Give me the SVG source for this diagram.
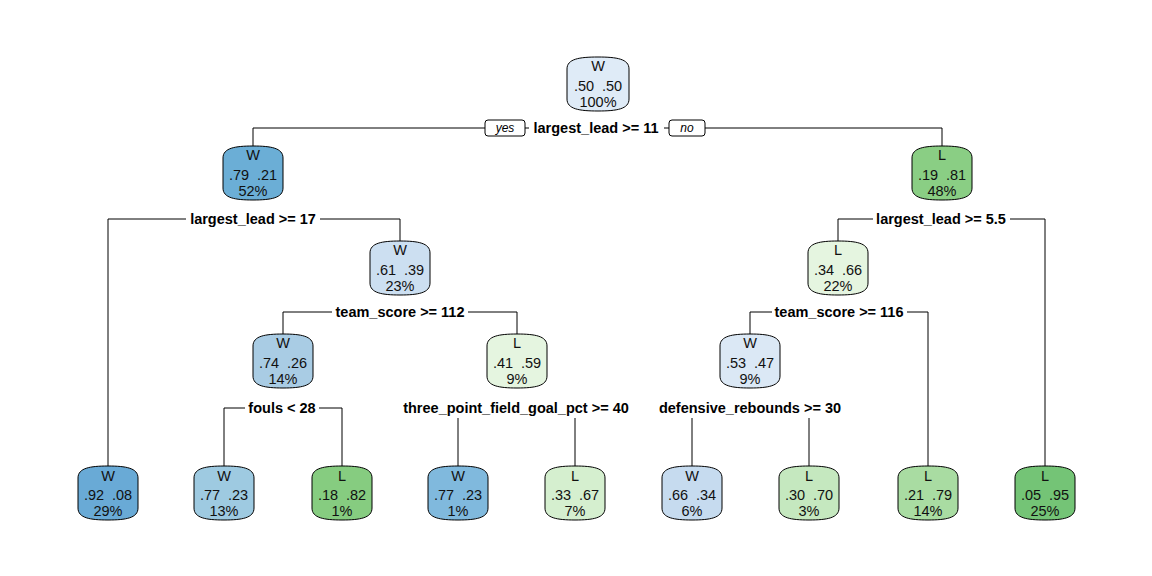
<svg xmlns="http://www.w3.org/2000/svg" width="1152" height="576" viewBox="0 0 1152 576">
<style>
.bg{fill:#ffffff}
.nd{stroke:#000;stroke-width:1}
.t{font-family:"Liberation Sans",Arial,sans-serif;font-size:14.5px;fill:#111;text-anchor:middle}
.s{font-family:"Liberation Sans",Arial,sans-serif;font-size:14.5px;font-weight:bold;fill:#000;text-anchor:middle}
.yn{font-family:"Liberation Sans",Arial,sans-serif;font-size:12px;font-style:italic;fill:#000;text-anchor:middle}
.ln{stroke:#000;stroke-width:1;fill:none}
.lb{fill:#fff}
</style>
<defs>
<path id="box" d="M0,12 C0,2 12,0 30,0 C48,0 60,2 60,12 V42 C60,52 48,54 30,54 C12,54 0,52 0,42 Z"/>
<path id="rootbox" d="M0,12 C0,2 12,0 31,0 C50,0 62,2 62,12 V42 C62,52 50,54 31,54 C12,54 0,52 0,42 Z"/>
</defs>
<rect class="bg" x="0" y="0" width="1152" height="576"/>
<g id="connectors">
<path class="ln" d="M253,146V128H942V146"/>
<path class="ln" d="M108,466V219H400V241"/>
<path class="ln" d="M838,241V219H1045V466"/>
<path class="ln" d="M283,334V312H517V334"/>
<path class="ln" d="M750,334V312H928V466"/>
<path class="ln" d="M224,466V408H342V466"/>
<path class="ln" d="M458,466V418"/>
<path class="ln" d="M575,466V418"/>
<path class="ln" d="M692,466V418"/>
<path class="ln" d="M809,466V418"/>
</g>
<g id="split-labels">
<rect class="lb" x="529" y="120" width="135" height="16"/>
<text class="s" x="596" y="133">largest_lead &gt;= 11</text>
<rect x="485" y="120" width="40" height="16" rx="3" fill="#fff" stroke="#000"/>
<text class="yn" x="505" y="132">yes</text>
<rect x="669" y="120" width="36" height="16" rx="3" fill="#fff" stroke="#000"/>
<text class="yn" x="687" y="132">no</text>
<rect class="lb" x="186" y="211" width="134" height="16"/>
<text class="s" x="253" y="224">largest_lead &gt;= 17</text>
<rect class="lb" x="873" y="211" width="137" height="16"/>
<text class="s" x="941" y="224">largest_lead &gt;= 5.5</text>
<rect class="lb" x="332" y="304" width="136" height="16"/>
<text class="s" x="400" y="317">team_score &gt;= 112</text>
<rect class="lb" x="772" y="304" width="135" height="16"/>
<text class="s" x="839" y="317">team_score &gt;= 116</text>
<rect class="lb" x="245" y="400" width="74" height="16"/>
<text class="s" x="282" y="413">fouls &lt; 28</text>
<text class="s" x="516" y="413">three_point_field_goal_pct &gt;= 40</text>
<text class="s" x="750" y="413">defensive_rebounds &gt;= 30</text>
</g>
<g id="n1"><use href="#rootbox" class="nd" x="567" y="57" fill="#DFEBF7"/><text class="t" x="598" y="71">W</text><text class="t" x="584" y="91">.50</text><text class="t" x="612" y="91">.50</text><text class="t" x="598" y="107">100%</text></g>
<g id="n2"><use href="#box" class="nd" x="223" y="146" fill="#6BAED6"/><text class="t" x="253" y="160">W</text><text class="t" x="239" y="180">.79</text><text class="t" x="267" y="180">.21</text><text class="t" x="253" y="196">52%</text></g>
<g id="n3"><use href="#box" class="nd" x="912" y="146" fill="#8ACE84"/><text class="t" x="942" y="160">L</text><text class="t" x="928" y="180">.19</text><text class="t" x="956" y="180">.81</text><text class="t" x="942" y="196">48%</text></g>
<g id="n5"><use href="#box" class="nd" x="370" y="241" fill="#CCDFF1"/><text class="t" x="400" y="255">W</text><text class="t" x="386" y="275">.61</text><text class="t" x="414" y="275">.39</text><text class="t" x="400" y="291">23%</text></g>
<g id="n6"><use href="#box" class="nd" x="808" y="241" fill="#E5F5E0"/><text class="t" x="838" y="255">L</text><text class="t" x="824" y="275">.34</text><text class="t" x="852" y="275">.66</text><text class="t" x="838" y="291">22%</text></g>
<g id="n10"><use href="#box" class="nd" x="253" y="334" fill="#A9CCE4"/><text class="t" x="283" y="348">W</text><text class="t" x="269" y="368">.74</text><text class="t" x="297" y="368">.26</text><text class="t" x="283" y="384">14%</text></g>
<g id="n11"><use href="#box" class="nd" x="487" y="334" fill="#E5F5E0"/><text class="t" x="517" y="348">L</text><text class="t" x="503" y="368">.41</text><text class="t" x="531" y="368">.59</text><text class="t" x="517" y="384">9%</text></g>
<g id="n12"><use href="#box" class="nd" x="720" y="334" fill="#DBE8F5"/><text class="t" x="750" y="348">W</text><text class="t" x="736" y="368">.53</text><text class="t" x="764" y="368">.47</text><text class="t" x="750" y="384">9%</text></g>
<g id="leaf4"><use href="#box" class="nd" x="78" y="466" fill="#69AAD6"/><text class="t" x="108" y="481">W</text><text class="t" x="94" y="500">.92</text><text class="t" x="122" y="500">.08</text><text class="t" x="108" y="516">29%</text></g>
<g id="leaf20"><use href="#box" class="nd" x="194" y="466" fill="#9ECAE1"/><text class="t" x="224" y="481">W</text><text class="t" x="210" y="500">.77</text><text class="t" x="238" y="500">.23</text><text class="t" x="224" y="516">13%</text></g>
<g id="leaf21"><use href="#box" class="nd" x="312" y="466" fill="#86CC80"/><text class="t" x="342" y="481">L</text><text class="t" x="328" y="500">.18</text><text class="t" x="356" y="500">.82</text><text class="t" x="342" y="516">1%</text></g>
<g id="leaf22"><use href="#box" class="nd" x="428" y="466" fill="#80B9DD"/><text class="t" x="458" y="481">W</text><text class="t" x="444" y="500">.77</text><text class="t" x="472" y="500">.23</text><text class="t" x="458" y="516">1%</text></g>
<g id="leaf23"><use href="#box" class="nd" x="545" y="466" fill="#D5EFCF"/><text class="t" x="575" y="481">L</text><text class="t" x="561" y="500">.33</text><text class="t" x="589" y="500">.67</text><text class="t" x="575" y="516">7%</text></g>
<g id="leaf24"><use href="#box" class="nd" x="662" y="466" fill="#C6DBEF"/><text class="t" x="692" y="481">W</text><text class="t" x="678" y="500">.66</text><text class="t" x="706" y="500">.34</text><text class="t" x="692" y="516">6%</text></g>
<g id="leaf25"><use href="#box" class="nd" x="779" y="466" fill="#C5E8BF"/><text class="t" x="809" y="481">L</text><text class="t" x="795" y="500">.30</text><text class="t" x="823" y="500">.70</text><text class="t" x="809" y="516">3%</text></g>
<g id="leaf13"><use href="#box" class="nd" x="898" y="466" fill="#A9DCA2"/><text class="t" x="928" y="481">L</text><text class="t" x="914" y="500">.21</text><text class="t" x="942" y="500">.79</text><text class="t" x="928" y="516">14%</text></g>
<g id="leaf7"><use href="#box" class="nd" x="1015" y="466" fill="#74C476"/><text class="t" x="1045" y="481">L</text><text class="t" x="1031" y="500">.05</text><text class="t" x="1059" y="500">.95</text><text class="t" x="1045" y="516">25%</text></g>
</svg>
